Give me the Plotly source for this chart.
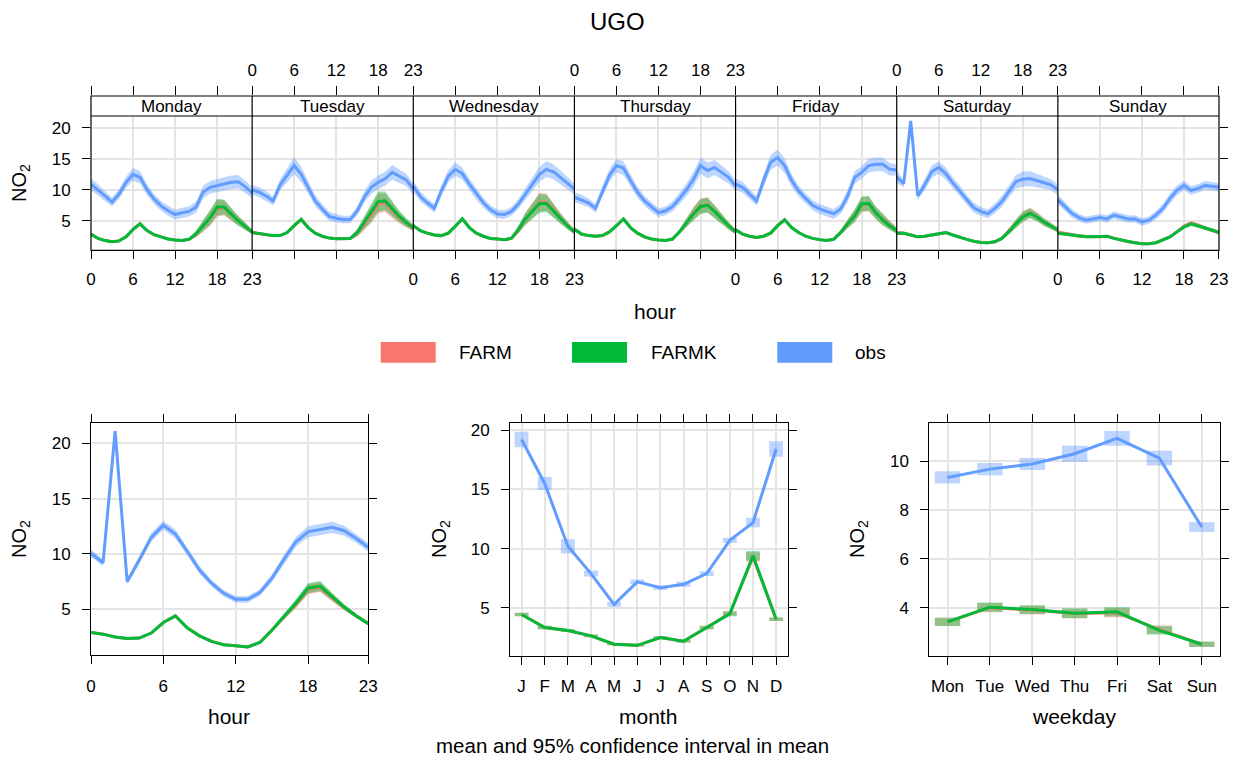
import plotly.graph_objects as go

W, H = 1233, 758
FONT = "Liberation Sans, Arial, Helvetica, sans-serif"
GRID = "#e4e4e4"


def fx(x):
    return x / W


def fy(y):
    return 1 - y / H


def rgba(hex_color, a):
    h = hex_color.lstrip("#")
    r, g, b = int(h[0:2], 16), int(h[2:4], 16), int(h[4:6], 16)
    return f"rgba({r},{g},{b},{a})"


COLORS = {"FARM": "#F8766D", "FARMK": "#00BA38", "obs": "#619CFF"}
BAND_ALPHA = {"FARM": 0.45, "FARMK": 0.45, "obs": 0.42}

# ---------------------------------------------------------------- data
days = ["Monday", "Tuesday", "Wednesday", "Thursday", "Friday", "Saturday", "Sunday"]
hours = list(range(24))
hour_ticks = [0, 6, 12, 18, 23]

# day x hour means
obs_monday = [10.9, 10.0, 9.0, 8.0, 9.3, 11.2, 12.5, 12.0, 10.0, 8.5, 7.4, 6.6, 6.0, 6.3, 6.5, 7.2, 9.6, 10.4, 10.7, 11.0, 11.2, 11.3, 10.5, 9.5]
obs_tuesday = [10.0, 9.6, 9.0, 8.2, 10.8, 12.3, 13.9, 12.5, 10.4, 8.2, 6.9, 5.7, 5.4, 5.2, 5.2, 6.6, 8.8, 10.4, 11.2, 11.8, 12.8, 12.2, 11.6, 10.1]
obs_wednesday = [10.6, 8.9, 7.9, 7.0, 9.8, 12.2, 13.3, 12.6, 10.9, 9.3, 7.9, 6.8, 6.1, 6.0, 6.5, 7.7, 9.3, 10.9, 12.5, 13.3, 12.9, 12.0, 11.1, 10.1]
obs_thursday = [8.8, 8.4, 7.9, 7.0, 9.8, 12.3, 13.9, 13.5, 11.5, 9.6, 8.2, 7.2, 6.3, 6.6, 7.3, 8.6, 10.0, 11.7, 13.9, 13.1, 13.6, 12.8, 12.0, 10.6]
obs_friday = [10.9, 10.4, 9.3, 8.2, 11.5, 14.4, 15.2, 13.9, 11.5, 9.8, 8.6, 7.5, 6.9, 6.5, 6.1, 6.9, 9.0, 12.0, 12.8, 13.9, 14.1, 14.1, 13.3, 13.2]
obs_saturday = [12.1, 11.0, 21.1, 9.0, 10.8, 12.9, 13.6, 12.6, 11.1, 9.8, 8.4, 7.1, 6.5, 6.1, 7.0, 8.1, 9.7, 11.3, 11.7, 11.8, 11.5, 11.1, 10.8, 10.0]
obs_sunday = [8.4, 7.3, 6.2, 5.5, 5.1, 5.3, 5.5, 5.3, 5.9, 5.6, 5.3, 5.3, 4.8, 5.1, 5.9, 7.0, 8.6, 9.9, 10.7, 9.9, 10.2, 10.7, 10.6, 10.4]

farmk_monday = [2.8, 2.15, 1.8, 1.6, 1.75, 2.4, 3.6, 4.5, 3.4, 2.75, 2.4, 2.05, 1.9, 1.8, 2.0, 2.9, 4.2, 5.5, 7.2, 7.2, 6.1, 5.0, 4.1, 3.2]
farmk_tuesday = [3.1, 2.9, 2.7, 2.6, 2.6, 3.1, 4.2, 5.2, 3.9, 3.0, 2.5, 2.2, 2.1, 2.1, 2.15, 3.1, 4.7, 6.3, 8.1, 8.2, 6.9, 5.7, 4.7, 3.9]
farmk_wednesday = [4.2, 3.4, 3.0, 2.7, 2.6, 3.0, 4.1, 5.3, 3.9, 3.0, 2.5, 2.15, 2.05, 1.95, 2.15, 3.6, 5.3, 6.6, 7.8, 7.8, 6.6, 5.3, 4.2, 3.2]
farmk_thursday = [3.65, 2.85, 2.6, 2.5, 2.6, 3.2, 4.2, 5.3, 3.9, 3.0, 2.4, 2.05, 1.9, 1.8, 2.05, 3.2, 4.7, 6.1, 7.3, 7.5, 6.5, 5.3, 4.2, 3.2]
farmk_friday = [3.55, 2.85, 2.5, 2.3, 2.5, 3.0, 4.2, 5.15, 3.9, 3.1, 2.5, 2.15, 1.95, 1.8, 2.0, 3.1, 4.5, 5.8, 7.7, 7.8, 6.3, 5.15, 4.2, 3.4]
farmk_saturday = [3.0, 3.0, 2.7, 2.4, 2.5, 2.7, 2.8, 3.1, 2.7, 2.3, 2.0, 1.7, 1.5, 1.45, 1.6, 2.15, 3.2, 4.5, 5.6, 6.2, 5.6, 4.8, 4.1, 3.5]
farmk_sunday = [3.0, 2.85, 2.7, 2.5, 2.4, 2.4, 2.4, 2.5, 2.15, 1.9, 1.6, 1.45, 1.3, 1.3, 1.45, 1.9, 2.4, 3.2, 4.0, 4.5, 4.2, 3.8, 3.5, 3.1]

farm_monday = [2.8, 2.15, 1.8, 1.6, 1.75, 2.4, 3.6, 4.5, 3.4, 2.75, 2.4, 2.05, 1.9, 1.8, 2.0, 2.8, 4.1, 5.4, 7.0, 7.1, 6.0, 5.0, 4.1, 3.2]
farm_tuesday = [3.1, 2.9, 2.7, 2.6, 2.6, 3.1, 4.2, 5.2, 3.9, 3.0, 2.5, 2.2, 2.1, 2.1, 2.15, 3.0, 4.5, 6.0, 7.8, 7.9, 6.6, 5.5, 4.6, 3.8]
farm_wednesday = [4.2, 3.4, 3.0, 2.7, 2.6, 3.0, 4.1, 5.3, 3.9, 3.0, 2.5, 2.15, 2.05, 1.95, 2.15, 3.5, 5.3, 6.7, 8.0, 8.0, 6.8, 5.4, 4.3, 3.2]
farm_thursday = [3.65, 2.85, 2.6, 2.5, 2.6, 3.2, 4.2, 5.3, 3.9, 3.0, 2.4, 2.05, 1.9, 1.8, 2.05, 3.2, 4.7, 6.2, 7.4, 7.6, 6.5, 5.3, 4.2, 3.2]
farm_friday = [3.55, 2.85, 2.5, 2.3, 2.5, 3.0, 4.2, 5.15, 3.9, 3.1, 2.5, 2.15, 1.95, 1.8, 2.0, 3.1, 4.5, 5.8, 7.6, 7.7, 6.3, 5.2, 4.3, 3.4]
farm_saturday = [3.0, 3.0, 2.7, 2.4, 2.5, 2.7, 2.8, 3.1, 2.7, 2.3, 2.0, 1.7, 1.5, 1.45, 1.6, 2.15, 3.3, 4.6, 5.7, 6.3, 5.7, 4.8, 4.1, 3.5]
farm_sunday = [3.1, 2.9, 2.75, 2.55, 2.45, 2.4, 2.4, 2.5, 2.15, 1.9, 1.6, 1.45, 1.3, 1.3, 1.45, 1.9, 2.4, 3.2, 4.1, 4.6, 4.3, 3.8, 3.5, 3.1]

# 95% CI half widths, day x hour
obs_ci_monday = [1.0, 0.9, 0.8, 0.7, 0.8, 0.9, 1.0, 1.0, 0.9, 0.8, 0.8, 0.8, 0.8, 0.8, 0.8, 0.9, 1.0, 1.0, 1.0, 1.1, 1.1, 1.1, 1.0, 0.9]
obs_ci_tuesday = [0.8, 0.8, 0.8, 0.7, 0.9, 1.1, 1.4, 1.2, 1.0, 0.9, 0.8, 0.7, 0.7, 0.6, 0.6, 0.7, 0.9, 1.1, 1.1, 1.1, 1.2, 1.1, 1.0, 0.9]
obs_ci_wednesday = [0.9, 0.8, 0.7, 0.7, 0.9, 1.0, 1.1, 1.0, 0.9, 0.9, 0.8, 0.7, 0.7, 0.7, 0.7, 0.8, 1.0, 1.1, 1.2, 1.3, 1.2, 1.1, 1.0, 0.9]
obs_ci_thursday = [0.8, 0.8, 0.7, 0.7, 0.9, 1.0, 1.1, 1.1, 1.0, 0.9, 0.8, 0.8, 0.7, 0.7, 0.8, 0.9, 1.0, 1.2, 1.3, 1.3, 1.2, 1.1, 1.0, 0.9]
obs_ci_friday = [0.9, 0.9, 0.8, 0.8, 1.0, 1.2, 1.3, 1.2, 1.0, 0.9, 0.8, 0.8, 0.8, 0.8, 0.8, 0.8, 1.0, 1.0, 1.0, 1.1, 1.1, 1.1, 1.0, 0.9]
obs_ci_saturday = [1.0, 0.6, 0.0, 0.6, 0.9, 1.0, 1.0, 1.0, 0.9, 0.9, 0.8, 0.8, 0.7, 0.7, 0.8, 0.9, 1.0, 1.1, 1.2, 1.2, 1.1, 1.0, 0.9, 0.9]
obs_ci_sunday = [0.8, 0.7, 0.7, 0.6, 0.6, 0.6, 0.6, 0.6, 0.6, 0.6, 0.6, 0.6, 0.6, 0.6, 0.7, 0.7, 0.8, 0.8, 0.8, 0.7, 0.7, 0.7, 0.7, 0.7]

mod_ci_monday = [0.25, 0.2, 0.2, 0.2, 0.2, 0.2, 0.25, 0.3, 0.25, 0.2, 0.15, 0.15, 0.15, 0.15, 0.2, 0.5, 0.9, 1.2, 1.35, 1.2, 1.0, 0.8, 0.6, 0.4]
mod_ci_tuesday = [0.25, 0.2, 0.2, 0.2, 0.2, 0.2, 0.25, 0.3, 0.25, 0.2, 0.15, 0.15, 0.15, 0.15, 0.2, 0.6, 1.0, 1.4, 1.6, 1.5, 1.2, 0.9, 0.7, 0.5]
mod_ci_wednesday = [0.3, 0.25, 0.2, 0.2, 0.2, 0.2, 0.25, 0.3, 0.25, 0.2, 0.15, 0.15, 0.15, 0.15, 0.2, 0.6, 1.0, 1.3, 1.5, 1.4, 1.1, 0.8, 0.6, 0.4]
mod_ci_thursday = [0.3, 0.25, 0.2, 0.2, 0.2, 0.2, 0.25, 0.3, 0.25, 0.2, 0.15, 0.15, 0.15, 0.15, 0.2, 0.4, 0.7, 1.0, 1.2, 1.2, 1.0, 0.8, 0.6, 0.4]
mod_ci_friday = [0.25, 0.2, 0.2, 0.2, 0.2, 0.2, 0.25, 0.3, 0.25, 0.2, 0.15, 0.15, 0.15, 0.15, 0.2, 0.4, 0.7, 1.0, 1.2, 1.2, 1.0, 0.9, 0.7, 0.5]
mod_ci_saturday = [0.3, 0.25, 0.2, 0.2, 0.2, 0.2, 0.2, 0.2, 0.2, 0.15, 0.15, 0.15, 0.15, 0.15, 0.15, 0.3, 0.5, 0.7, 0.8, 0.8, 0.7, 0.6, 0.5, 0.4]
mod_ci_sunday = [0.35, 0.3, 0.3, 0.25, 0.25, 0.2, 0.2, 0.2, 0.15, 0.15, 0.15, 0.1, 0.1, 0.1, 0.1, 0.15, 0.2, 0.3, 0.35, 0.35, 0.35, 0.3, 0.3, 0.3]

# hour of day
hour_obs = [10.06, 9.2, 21.1, 7.5, 9.45, 11.5, 12.6, 11.8, 10.2, 8.55, 7.35, 6.45, 5.9, 5.9, 6.5, 7.8, 9.5, 11.1, 12.0, 12.2, 12.4, 12.1, 11.4, 10.6]
hour_obs_ci = [0.35, 0.3, 0.0, 0.3, 0.35, 0.4, 0.4, 0.4, 0.35, 0.35, 0.3, 0.3, 0.3, 0.3, 0.3, 0.35, 0.4, 0.45, 0.5, 0.5, 0.5, 0.45, 0.4, 0.4]
hour_farmk = [2.9, 2.75, 2.5, 2.35, 2.4, 2.85, 3.8, 4.4, 3.3, 2.6, 2.1, 1.8, 1.7, 1.6, 2.0, 3.1, 4.35, 5.55, 6.9, 7.1, 6.15, 5.2, 4.4, 3.7]
hour_farm = [2.9, 2.75, 2.5, 2.35, 2.4, 2.85, 3.8, 4.4, 3.3, 2.6, 2.1, 1.8, 1.7, 1.6, 2.0, 3.1, 4.3, 5.45, 6.8, 7.0, 6.05, 5.15, 4.4, 3.7]
hour_mod_ci = [0.12, 0.1, 0.1, 0.1, 0.1, 0.1, 0.12, 0.12, 0.1, 0.1, 0.08, 0.08, 0.08, 0.08, 0.1, 0.15, 0.25, 0.35, 0.45, 0.45, 0.35, 0.25, 0.2, 0.15]

# month
months = ["Jan", "Feb", "Mar", "Apr", "May", "Jun", "Jul", "Aug", "Sep", "Oct", "Nov", "Dec"]
month_letters = ["J", "F", "M", "A", "M", "J", "J", "A", "S", "O", "N", "D"]
month_obs = [19.2, 15.5, 10.2, 7.9, 5.3, 7.2, 6.7, 7.0, 7.9, 10.7, 12.2, 18.4]
month_obs_ci = [0.65, 0.55, 0.6, 0.25, 0.2, 0.2, 0.2, 0.22, 0.2, 0.22, 0.4, 0.65]
month_farmk = [4.45, 3.35, 3.1, 2.65, 1.95, 1.85, 2.5, 2.2, 3.35, 4.5, 9.4, 4.05]
month_farm = [4.45, 3.35, 3.1, 2.65, 1.95, 1.85, 2.5, 2.2, 3.35, 4.55, 9.3, 4.05]
month_mod_ci = [0.15, 0.15, 0.12, 0.12, 0.1, 0.1, 0.12, 0.12, 0.15, 0.2, 0.4, 0.15]

# weekday
weekdays = ["Mon", "Tue", "Wed", "Thu", "Fri", "Sat", "Sun"]
wd_obs = [9.33, 9.67, 9.88, 10.3, 10.93, 10.12, 7.3]
wd_obs_ci = [0.25, 0.25, 0.25, 0.33, 0.3, 0.3, 0.2]
wd_farmk = [3.42, 4.02, 3.92, 3.77, 3.83, 3.07, 2.5]
wd_farm = [3.42, 4.0, 3.9, 3.76, 3.79, 3.1, 2.5]
wd_mod_ci = [0.17, 0.19, 0.18, 0.2, 0.19, 0.17, 0.11]

week_series = {
    "FARM": [farm_monday, farm_tuesday, farm_wednesday, farm_thursday, farm_friday, farm_saturday, farm_sunday],
    "FARMK": [farmk_monday, farmk_tuesday, farmk_wednesday, farmk_thursday, farmk_friday, farmk_saturday, farmk_sunday],
    "obs": [obs_monday, obs_tuesday, obs_wednesday, obs_thursday, obs_friday, obs_saturday, obs_sunday],
}
mod_ci_week = [mod_ci_monday, mod_ci_tuesday, mod_ci_wednesday, mod_ci_thursday, mod_ci_friday, mod_ci_saturday, mod_ci_sunday]
week_ci = {
    "FARM": mod_ci_week,
    "FARMK": mod_ci_week,
    "obs": [obs_ci_monday, obs_ci_tuesday, obs_ci_wednesday, obs_ci_thursday, obs_ci_friday, obs_ci_saturday, obs_ci_sunday],
}

fig = go.Figure()


def add_band(x, mean, ci, name, xa, ya):
    upper = [m + c for m, c in zip(mean, ci)]
    lower = [m - c for m, c in zip(mean, ci)]
    fig.add_trace(go.Scatter(
        x=list(x) + list(x)[::-1], y=upper + lower[::-1],
        fill="toself", fillcolor=rgba(COLORS[name], BAND_ALPHA[name]),
        line=dict(width=0), mode="lines", hoverinfo="skip",
        showlegend=False, xaxis=xa, yaxis=ya))


def add_line(x, mean, name, xa, ya):
    fig.add_trace(go.Scatter(
        x=list(x), y=mean, mode="lines", name=name,
        line=dict(color=COLORS[name], width=3),
        showlegend=False, xaxis=xa, yaxis=ya))


def add_boxes(x, mean, ci, name, xa, ya, alpha):
    fig.add_trace(go.Bar(
        x=x, y=[2 * c for c in ci], base=[m - c for m, c in zip(mean, ci)],
        width=0.6, marker=dict(color=rgba(COLORS[name], alpha), line=dict(width=0)),
        hoverinfo="skip", showlegend=False, xaxis=xa, yaxis=ya))


def add_axis_holder(xa, ya):
    # empty trace so that an axis pair gets its own subplot
    fig.add_trace(go.Scatter(x=[None], y=[None], mode="lines", hoverinfo="skip",
                             showlegend=False, xaxis=xa, yaxis=ya))


series_order = ["FARM", "FARMK", "obs"]

# ---------------------------------------------------------------- top: day x hour panels
TOP_L, TOP_R = 91, 1219
STRIP_T, PLOT_T, PLOT_B = 96, 116, 250.3
PW = (TOP_R - TOP_L) / 7

for d in range(7):
    xa = "x" if d == 0 else f"x{d + 1}"
    for s in series_order:
        add_band(hours, week_series[s][d], week_ci[s][d], s, xa, "y")
    for s in series_order:
        add_line(hours, week_series[s][d], s, xa, "y")
    add_axis_holder(f"x{11 + d}", "y6")
add_axis_holder("x7", "y5")

# ---------------------------------------------------------------- bottom: hour / month / weekday
hour_means = {"FARM": hour_farm, "FARMK": hour_farmk, "obs": hour_obs}
for s in series_order:
    add_band(hours, hour_means[s], hour_obs_ci if s == "obs" else hour_mod_ci, s, "x8", "y2")
for s in series_order:
    add_line(hours, hour_means[s], s, "x8", "y2")

month_means = {"FARM": month_farm, "FARMK": month_farmk, "obs": month_obs}
for s in series_order:
    add_boxes(months, month_means[s], month_obs_ci if s == "obs" else month_mod_ci,
              s, "x9", "y3", 0.42)
for s in series_order:
    add_line(months, month_means[s], s, "x9", "y3")

wd_means = {"FARM": wd_farm, "FARMK": wd_farmk, "obs": wd_obs}
for s in series_order:
    add_boxes(weekdays, wd_means[s], wd_obs_ci if s == "obs" else wd_mod_ci,
              s, "x10", "y4", 0.42)
for s in series_order:
    add_line(weekdays, wd_means[s], s, "x10", "y4")

# ---------------------------------------------------------------- axes
TICK_SIZE = 17
tickfont = dict(family=FONT, size=TICK_SIZE, color="black")
common = dict(ticks="outside", ticklen=8, tickwidth=1, tickcolor="black",
              tickfont=tickfont, zeroline=False, fixedrange=True, automargin=False)
layout = {}

for d in range(7):
    name = "xaxis" if d == 0 else f"xaxis{d + 1}"
    L = TOP_L + d * PW
    layout[name] = dict(
        common, domain=[fx(L), fx(L + PW)], range=[0, 23], anchor="y",
        tickmode="array", tickvals=hour_ticks, ticktext=[str(v) for v in hour_ticks],
        showticklabels=(d % 2 == 0), showgrid=True, gridcolor=GRID, gridwidth=1.5,
        showline=False, ticklabelstandoff=5)
    # hour ticks above the strip
    layout[f"xaxis{11 + d}"] = dict(
        common, domain=[fx(L), fx(L + PW)], range=[0, 23], anchor="y6",
        side="top", tickmode="array", tickvals=hour_ticks, ticklen=9,
        ticktext=[str(v) for v in hour_ticks], showticklabels=(d % 2 == 1),
        showgrid=False, showline=False, ticklabelstandoff=3)

layout["yaxis"] = dict(
    common, domain=[fy(PLOT_B), fy(PLOT_T)], range=[0.23, 21.9], anchor="x",
    tickmode="array", tickvals=[5, 10, 15, 20], showgrid=True, gridcolor=GRID,
    gridwidth=1.5, showline=False, ticklabelstandoff=8)
layout["yaxis5"] = dict(
    common, range=[0.23, 21.9], overlaying="y", anchor="x7",
    side="right", tickmode="array", tickvals=[5, 10, 15, 20], showticklabels=False,
    showgrid=False, showline=False)
layout["yaxis6"] = dict(
    domain=[fy(PLOT_T), fy(STRIP_T)], range=[0, 1], anchor="x11", visible=False,
    fixedrange=True)

box = dict(showline=True, linecolor="black", linewidth=1, mirror="ticks",
           showgrid=True, gridcolor=GRID, gridwidth=1.5)

layout["xaxis8"] = dict(common, **box, domain=[fx(91), fx(368.3)], range=[0, 23], anchor="y2",
                        tickmode="array", tickvals=hour_ticks, ticklabelstandoff=7)
layout["yaxis2"] = dict(common, **box, domain=[fy(655.3), fy(422.7)], range=[0.84, 21.86],
                        anchor="x8", tickmode="array", tickvals=[5, 10, 15, 20],
                        ticklabelstandoff=8)
layout["xaxis9"] = dict(common, **box, domain=[fx(510), fx(787.7)], range=[-0.5, 11.5],
                        anchor="y3", type="category", categoryorder="array",
                        categoryarray=months, tickmode="array", tickvals=months,
                        ticktext=month_letters, ticklabelstandoff=7)
layout["yaxis3"] = dict(common, **box, domain=[fy(656), fy(422.7)], range=[0.95, 20.62],
                        anchor="x9", tickmode="array", tickvals=[5, 10, 15, 20],
                        ticklabelstandoff=8)
layout["xaxis10"] = dict(common, **box, domain=[fx(929.3), fx(1220)], range=[-0.43, 6.43],
                         anchor="y4", type="category", categoryorder="array",
                         categoryarray=weekdays, tickmode="array", tickvals=weekdays,
                         ticklabelstandoff=7)
layout["yaxis4"] = dict(common, **box, domain=[fy(656), fy(422.7)], range=[2.02, 11.57],
                        anchor="x10", tickmode="array", tickvals=[4, 6, 8, 10],
                        ticklabelstandoff=8)

# ---------------------------------------------------------------- frame, strips, legend
shapes = []
line_k = dict(color="black", width=1.2)
shapes.append(dict(type="rect", xref="paper", yref="paper", x0=fx(TOP_L), x1=fx(TOP_R),
                   y0=fy(PLOT_B), y1=fy(STRIP_T), line=line_k, layer="above"))
for d in range(1, 7):
    xv = fx(TOP_L + d * PW)
    shapes.append(dict(type="line", xref="paper", yref="paper", x0=xv, x1=xv,
                       y0=fy(PLOT_B), y1=fy(STRIP_T), line=line_k, layer="above"))
shapes.append(dict(type="line", xref="paper", yref="paper", x0=fx(TOP_L), x1=fx(TOP_R),
                   y0=fy(PLOT_T), y1=fy(PLOT_T), line=line_k, layer="above"))

annotations = []


def text(x, y, s, size, angle=0, xanchor="center"):
    annotations.append(dict(x=fx(x), y=fy(y), xref="paper", yref="paper", text=s,
                            showarrow=False, textangle=angle, xanchor=xanchor,
                            yanchor="middle", font=dict(family=FONT, size=size, color="black")))


for d, day in enumerate(days):
    text(TOP_L + (d + 0.5) * PW, (STRIP_T + PLOT_T) / 2 + 0.5, day, 17)

legend_items = [("FARM", 380.7, 457), ("FARMK", 572, 649.3), ("obs", 777.3, 853.3)]
for name, x0, tx in legend_items:
    shapes.append(dict(type="rect", xref="paper", yref="paper", x0=fx(x0), x1=fx(x0 + 55),
                       y0=fy(362.7), y1=fy(342), fillcolor=COLORS[name], line=dict(width=0)))
    text(tx, 352, name, 19, xanchor="left")

text(617, 21, "UGO", 24)
text(655, 311, "hour", 21)
text(229, 716, "hour", 21)
text(648, 716, "month", 21)
text(1074, 716, "weekday", 21)
text(632, 745, "mean and 95% confidence interval in mean", 20.5)
for xpos, ypos in [(20, 183), (20, 539), (440, 539), (858, 539)]:
    text(xpos, ypos, "NO<sub>2</sub>", 20, angle=-90)

fig.update_layout(
    width=W, height=H, margin=dict(l=0, r=0, t=0, b=0, autoexpand=False),
    paper_bgcolor="white", plot_bgcolor="rgba(0,0,0,0)", showlegend=False,
    barmode="overlay", shapes=shapes, annotations=annotations,
    font=dict(family=FONT, color="black"), **layout)

fig.write_html("out.html")
